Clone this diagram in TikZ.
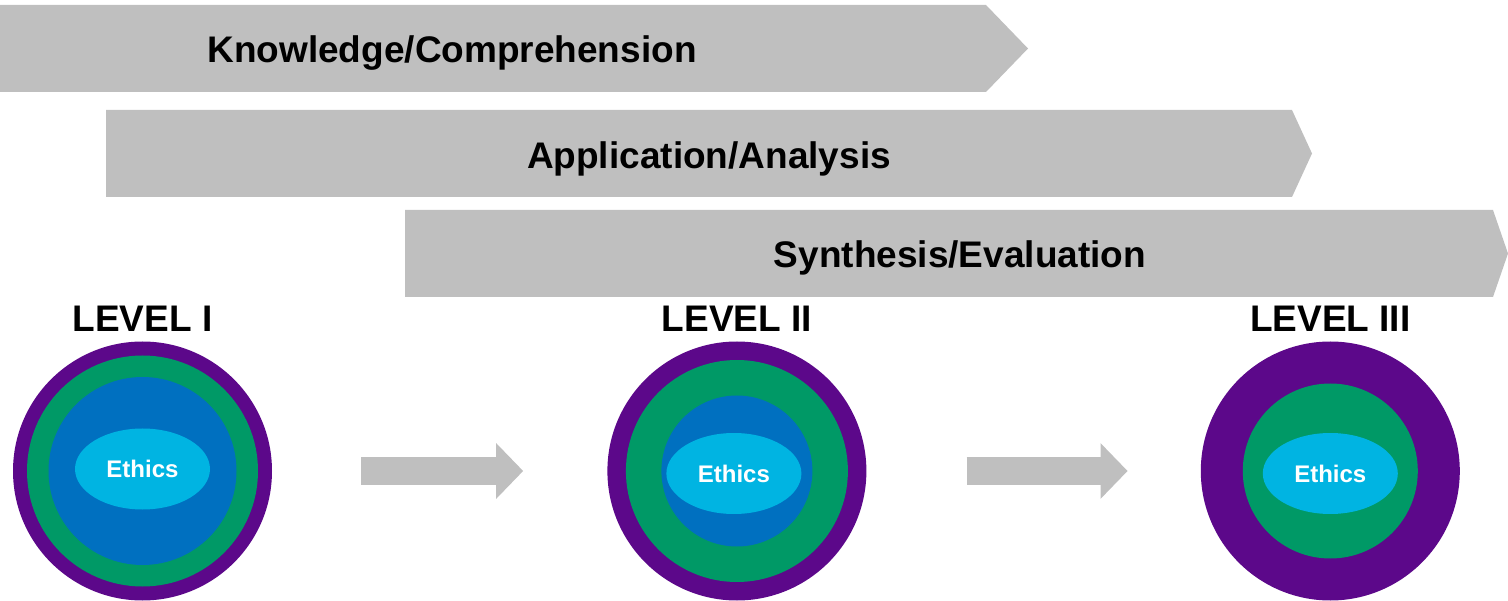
\documentclass[tikz,border=0pt]{standalone}
\usepackage{fontspec}
\setmainfont{Liberation Sans}
\usepackage{xcolor}
\usepackage{tikz}
\usetikzlibrary{positioning,shapes.geometric,arrows.meta}

\definecolor{barGray}{RGB}{191,191,191}
\definecolor{ringPurple}{RGB}{92,8,138}
\definecolor{ringGreen}{RGB}{0,153,102}
\definecolor{ringBlue}{RGB}{0,112,192}
\definecolor{ethicsBlue}{RGB}{0,180,226}

\begin{document}
\begin{tikzpicture}
      [ x=1pt, y=-1pt,
        bar/.style={fill=barGray},
        bartext/.style={anchor=base, inner sep=0pt, font=\fontsize{37}{44}\selectfont\bfseries},
        lvl/.style={anchor=base, inner sep=0pt, font=\fontsize{37}{44}\selectfont\bfseries},
        ring/.style={circle, inner sep=0pt, minimum size=#1},
        ethics/.style={ellipse, fill=ethicsBlue, text=white, inner sep=0pt,
                       minimum width=135pt, minimum height=81pt,
                       font=\fontsize{24}{29}\selectfont\bfseries},
        flow/.style={draw=barGray, line width=28pt, -{Triangle[length=27pt,width=54pt]}}
      ]
      \useasboundingbox (0,0) rectangle (1508,601);

      % the three bars
      \fill[bar] (0,5) -- (986,5) -- (1028,48.5) -- (986,92) -- (0,92) -- cycle;
      \fill[bar] (106,110) -- (1292,110) -- (1312,153.5) -- (1292,197) -- (106,197) -- cycle;
      \fill[bar] (405,210) -- (1493,210) -- (1508,253.5) -- (1493,297) -- (405,297) -- cycle;

      \node[bartext] (t1) at (452,63)  {Knowledge/Comprehension};
      \node[bartext] (t2) at (709,169) {Application/Analysis};
      \node[bartext] (t3) at (960,268) {Synthesis/Evaluation};

      % levels
      \node[ring=259pt, fill=ringPurple] (o1) at (142.5,471) {};
      \node[ring=259pt, fill=ringPurple] (o2) [right=335pt of o1] {};
      \node[ring=259pt, fill=ringPurple] (o3) [right=334pt of o2] {};

      \node[ring=231pt, fill=ringGreen] (g1) at (o1) {};
      \node[ring=188pt, fill=ringBlue]  (b1) at (o1) {};
      \node[ring=222pt, fill=ringGreen] (g2) at (o2) {};
      \node[ring=151pt, fill=ringBlue]  (b2) at (o2) {};
      \node[ring=175pt, fill=ringGreen] (g3) at (o3) {};

      \node[ethics] (e1) at ([yshift=2pt]o1)                 {Ethics};
      \node[ethics] (e2) at ([xshift=-3pt,yshift=-2.5pt]o2) {Ethics};
      \node[ethics] (e3) at ([yshift=-2.5pt]o3)              {Ethics};

      \node[lvl] (l1) [above=10pt of o1, anchor=base] {LEVEL I};
      \node[lvl] (l2) [above=10pt of o2, anchor=base] {LEVEL II};
      \node[lvl] (l3) [above=10pt of o3, anchor=base] {LEVEL III};

      \draw[flow, shorten <=89pt, shorten >=84pt] (o1.east) -- (o2.west);
      \draw[flow, shorten <=100pt, shorten >=73pt] (o2.east) -- (o3.west);
\end{tikzpicture}
\end{document}
